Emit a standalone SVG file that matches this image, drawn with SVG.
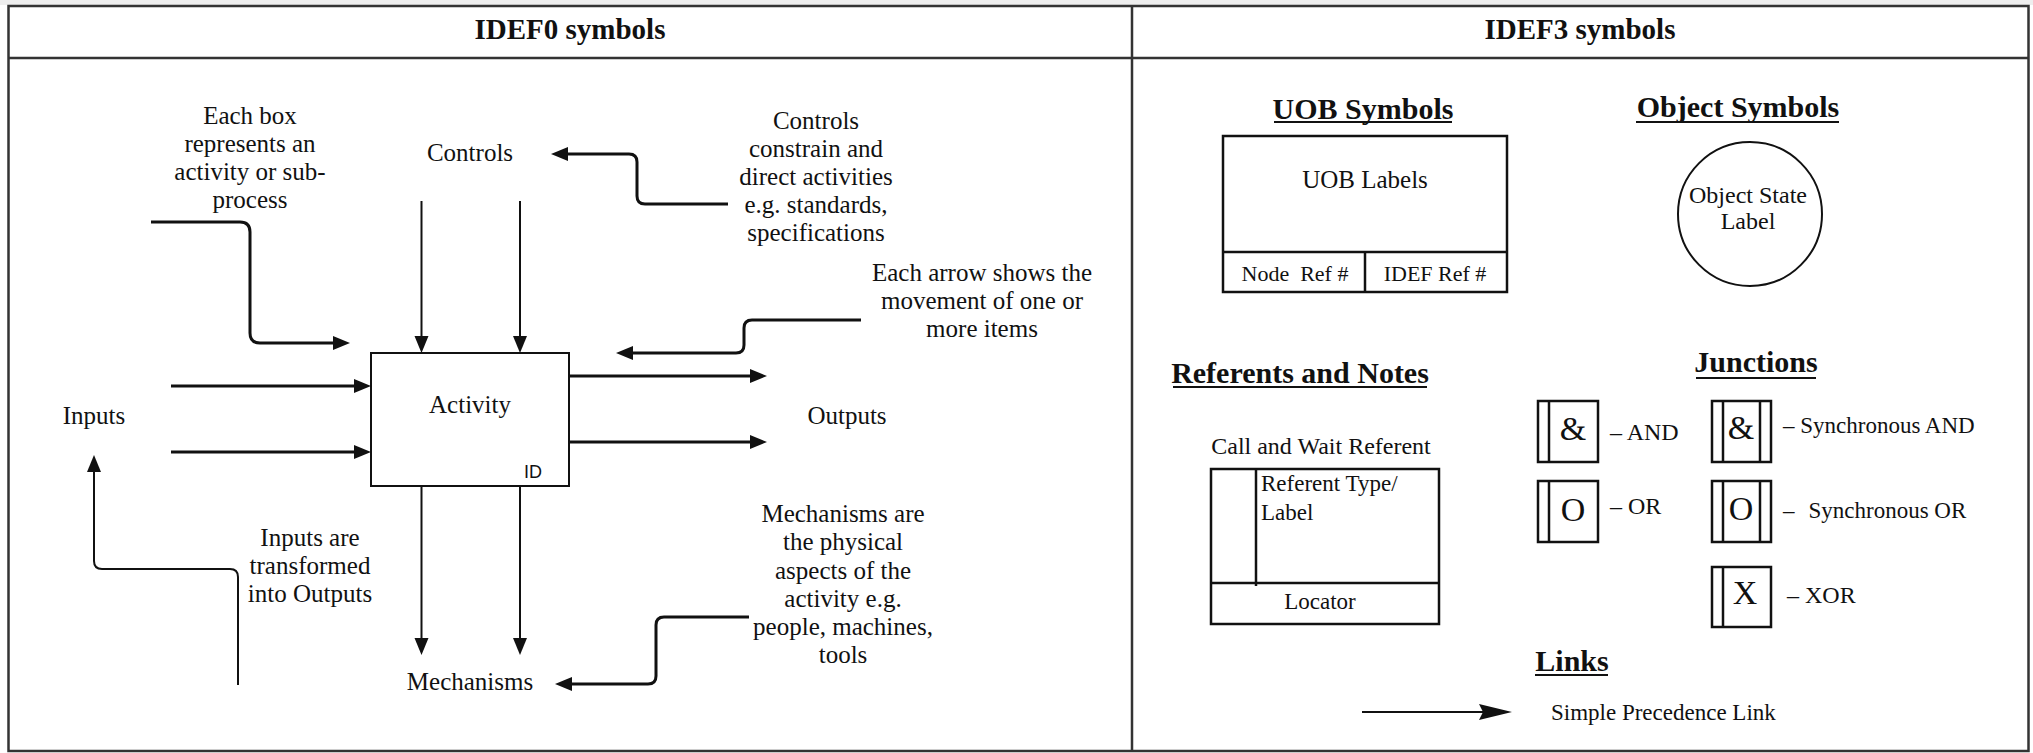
<svg xmlns="http://www.w3.org/2000/svg" width="2033" height="753" viewBox="0 0 2033 753">
<defs>
<style>
.t{font-family:"Liberation Serif","Times New Roman",serif;fill:#111;}
.l{font-size:25px;text-anchor:middle;}
.h{font-size:29px;font-weight:bold;text-anchor:middle;}
.u{font-size:30px;font-weight:bold;text-anchor:middle;}
.r{font-size:24px;}
.c{text-anchor:middle;}
.j{font-size:34px;text-anchor:middle;}
.frame{fill:none;stroke:#333;stroke-width:2.5;}
.box{fill:#fff;stroke:#111;stroke-width:2;}
.bx{fill:none;stroke:#111;stroke-width:2.5;}
.thick{fill:none;stroke:#111;stroke-width:3;}
.thin{fill:none;stroke:#111;stroke-width:2;}
.ul{stroke:#111;stroke-width:2;}
</style>
<marker id="ah" markerUnits="userSpaceOnUse" markerWidth="18" markerHeight="16" refX="10" refY="8" orient="auto"><path d="M0,1 L17,8 L0,15 z" fill="#111"/></marker>
<marker id="as" markerUnits="userSpaceOnUse" markerWidth="18" markerHeight="16" refX="10" refY="8" orient="auto"><path d="M0,1 L17,8 L0,15 z" fill="#111"/></marker>
<marker id="al" markerUnits="userSpaceOnUse" markerWidth="34" markerHeight="18" refX="22" refY="9" orient="auto"><path d="M0,1 L33,9 L0,17 L4,9 z" fill="#111"/></marker>
</defs>
<rect width="2033" height="753" fill="#fff"/>
<rect width="2033" height="5" fill="#eeeeee"/>
<g id="frame">
<rect class="frame" x="8.5" y="6" width="2020" height="745"/>
<line class="frame" x1="8.5" y1="58" x2="2028.5" y2="58"/>
<line class="frame" x1="1132" y1="6" x2="1132" y2="751"/>
<text class="t h" x="570" y="39">IDEF0 symbols</text>
<text class="t h" x="1580" y="39">IDEF3 symbols</text>
</g>
<g id="activity">
<rect class="box" x="371" y="353" width="198" height="133"/>
<text class="t l" x="470" y="413">Activity</text>
<text x="533" y="478" font-family="Liberation Sans, Arial, sans-serif" font-size="18" text-anchor="middle" fill="#111">ID</text>
</g>
<g id="labels">
<text class="t l" x="470" y="161">Controls</text>
<text class="t l" x="94" y="424">Inputs</text>
<text class="t l" x="847" y="424">Outputs</text>
<text class="t l" x="470" y="690">Mechanisms</text>
</g>
<g id="note-box">
<text class="t l" x="250" y="124">Each box</text>
<text class="t l" x="250" y="152">represents an</text>
<text class="t l" x="250" y="180">activity or sub-</text>
<text class="t l" x="250" y="208">process</text>
</g>
<g id="note-controls">
<text class="t l" x="816" y="129">Controls</text>
<text class="t l" x="816" y="157">constrain and</text>
<text class="t l" x="816" y="185">direct activities</text>
<text class="t l" x="816" y="213">e.g. standards,</text>
<text class="t l" x="816" y="241">specifications</text>
</g>
<g id="note-arrow">
<text class="t l" x="982" y="281">Each arrow shows the</text>
<text class="t l" x="982" y="309">movement of one or</text>
<text class="t l" x="982" y="337">more items</text>
</g>
<g id="note-inputs">
<text class="t l" x="310" y="546">Inputs are</text>
<text class="t l" x="310" y="574">transformed</text>
<text class="t l" x="310" y="602">into Outputs</text>
</g>
<g id="note-mechanisms">
<text class="t l" x="843" y="522">Mechanisms are</text>
<text class="t l" x="843" y="550">the physical</text>
<text class="t l" x="843" y="579">aspects of the</text>
<text class="t l" x="843" y="607">activity e.g.</text>
<text class="t l" x="843" y="635">people, machines,</text>
<text class="t l" x="843" y="663">tools</text>
</g>
<g id="connectors">
<path class="thick" marker-end="url(#ah)" d="M151 222 H240 Q250 222 250 232 V333 Q250 343 260 343 H343"/>
<path class="thick" marker-end="url(#ah)" d="M728 204 H645 Q637 204 637 196 V162 Q637 154 629 154 H558"/>
<path class="thick" marker-end="url(#ah)" d="M861 320 H752 Q744 320 744 328 V345 Q744 353 736 353 H623"/>
<path class="thin" marker-end="url(#as)" d="M421.5 201 V346"/>
<path class="thin" marker-end="url(#as)" d="M520 201 V346"/>
<path class="thin" marker-end="url(#as)" d="M421.5 486 V648"/>
<path class="thin" marker-end="url(#as)" d="M520 486 V648"/>
<path class="thick" marker-end="url(#ah)" d="M171 386 H364"/>
<path class="thick" marker-end="url(#ah)" d="M171 452 H364"/>
<path class="thick" marker-end="url(#ah)" d="M569 376 H760"/>
<path class="thick" marker-end="url(#ah)" d="M569 442 H760"/>
<path class="thin" marker-end="url(#ah)" d="M238 685 V577 Q238 569 230 569 H102 Q94 569 94 561 V462"/>
<path class="thick" marker-end="url(#ah)" d="M749 617 H664 Q656 617 656 625 V676 Q656 684 648 684 H562"/>
<path class="thin" marker-end="url(#al)" d="M1362 712 H1501"/>
</g>
<g id="uob">
<text class="t u" x="1363" y="119">UOB Symbols</text>
<line class="ul" x1="1274" y1="122" x2="1452" y2="122"/>
<rect class="bx" x="1223" y="136" width="284" height="156"/>
<line class="bx" x1="1223" y1="252" x2="1507" y2="252"/>
<line class="bx" x1="1365" y1="252" x2="1365" y2="292"/>
<text class="t c" x="1365" y="188" font-size="25">UOB Labels</text>
<text class="t c" x="1295" y="281" font-size="22" xml:space="preserve">Node  Ref #</text>
<text class="t c" x="1435" y="281" font-size="22">IDEF Ref #</text>
</g>
<g id="object">
<text class="t u" x="1738" y="117">Object Symbols</text>
<line class="ul" x1="1636" y1="122" x2="1839" y2="122"/>
<circle class="thin" cx="1750" cy="214" r="72"/>
<text class="t c r" x="1748" y="203">Object State</text>
<text class="t c r" x="1748" y="229">Label</text>
</g>
<g id="referents">
<text class="t u" x="1300" y="383">Referents and Notes</text>
<line class="ul" x1="1173" y1="387" x2="1427" y2="387"/>
<text class="t c r" x="1321" y="454">Call and Wait Referent</text>
<rect class="bx" x="1211" y="469" width="228" height="155"/>
<line class="bx" x1="1256" y1="469" x2="1256" y2="586"/>
<line class="bx" x1="1211" y1="583" x2="1439" y2="583"/>
<text class="t" x="1261" y="491" font-size="23">Referent Type/</text>
<text class="t" x="1261" y="520" font-size="23">Label</text>
<text class="t c" x="1320" y="609" font-size="23">Locator</text>
</g>
<g id="junctions">
<text class="t u" x="1756" y="372">Junctions</text>
<line class="ul" x1="1696" y1="378" x2="1816" y2="378"/>
</g>
<g id="j-and">
<rect class="bx" x="1538" y="401" width="60" height="61"/>
<line class="bx" x1="1549" y1="401" x2="1549" y2="462"/>
<text class="t j" x="1573" y="440">&amp;</text>
<text class="t r" x="1610" y="440">– AND</text>
</g>
<g id="j-or">
<rect class="bx" x="1538" y="481" width="60" height="61"/>
<line class="bx" x1="1549" y1="481" x2="1549" y2="542"/>
<text class="t j" x="1573" y="521">O</text>
<text class="t r" x="1610" y="514">– OR</text>
</g>
<g id="j-sand">
<rect class="bx" x="1712" y="401" width="59" height="61"/>
<line class="bx" x1="1723" y1="401" x2="1723" y2="462"/>
<line class="bx" x1="1760" y1="401" x2="1760" y2="462"/>
<text class="t j" x="1741" y="439">&amp;</text>
<text class="t" x="1783" y="433" font-size="23">– Synchronous AND</text>
</g>
<g id="j-sor">
<rect class="bx" x="1712" y="481" width="59" height="61"/>
<line class="bx" x1="1723" y1="481" x2="1723" y2="542"/>
<line class="bx" x1="1760" y1="481" x2="1760" y2="542"/>
<text class="t j" x="1741" y="520">O</text>
<text class="t" x="1783" y="518" font-size="23">–<tspan dx="14">Synchronous OR</tspan></text>
</g>
<g id="j-xor">
<rect class="bx" x="1712" y="567" width="59" height="60"/>
<line class="bx" x1="1723" y1="567" x2="1723" y2="627"/>
<text class="t j" x="1745" y="604">X</text>
<text class="t r" x="1787" y="603">– XOR</text>
</g>
<g id="links">
<text class="t u" x="1572" y="671">Links</text>
<line class="ul" x1="1535" y1="675" x2="1608" y2="675"/>
<text class="t" x="1551" y="720" font-size="23">Simple Precedence Link</text>
</g>
</svg>
